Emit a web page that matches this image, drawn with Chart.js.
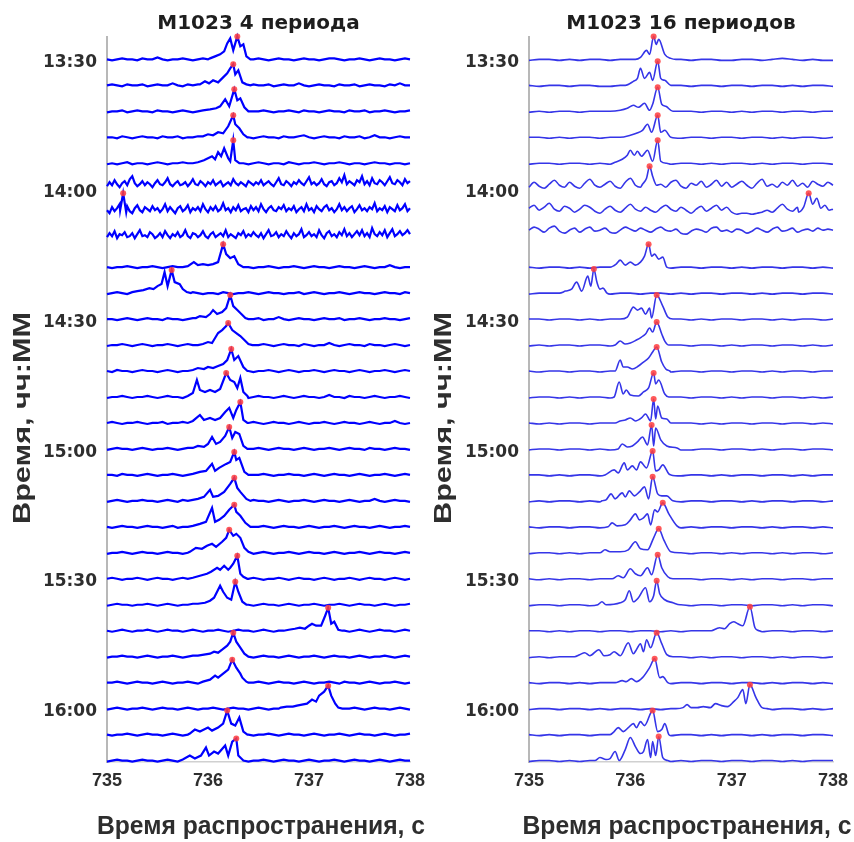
<!DOCTYPE html>
<html>
<head>
<meta charset="utf-8">
<script src="https://cdn.jsdelivr.net/npm/chart.js@4.4.1/dist/chart.umd.min.js"></script>
<style>
  html, body { margin: 0; padding: 0; background: #fff; }
  #wrap { display: flex; width: 854px; height: 842px; overflow: hidden; }
  .panel { width: 427px; height: 842px; }
</style>
</head>
<body>
<div id="wrap">
  <div class="panel"><canvas id="chart4" width="427" height="842"></canvas></div>
  <div class="panel"><canvas id="chart16" width="427" height="842"></canvas></div>
</div>
<script>
// propagation time window, s
const X_MIN = 735;
const X_MAX = 738;
const xTicks = [735, 736, 737, 738];
const yTickLabels = ['13:30', '14:00', '14:30', '15:00', '15:30', '16:00'];

// start time of every sounding session (one trace each)
const traceTimes = [
  '13:29:30', '13:35:30', '13:41:30', '13:47:30', '13:53:30', '13:59:30', '14:05:30',
  '14:11:30', '14:17:30', '14:23:30', '14:29:30', '14:35:30', '14:41:30', '14:47:30',
  '14:53:30', '14:59:30', '15:05:30', '15:11:30', '15:17:30', '15:23:30', '15:29:30',
  '15:35:30', '15:41:30', '15:47:30', '15:53:30', '15:59:30', '16:05:30', '16:11:30'
];

// amplitude unit expressed in minutes of the time axis
const AMP = 0.231;

// 4-period accumulation: background samples spread evenly over 735..738 s
const noise4 = [
  [1,0,1,2,1,1,0,2,1,1,3,1,0,1,1,2,1,0,1,2,1,1,0,1,2,1,1,0,1,1,2,1,0,1,2,1,1,0,1,2,1,1,0,1,2,2,1,0,1,1,2,1,0,1,2,1,1,0,1,2,1],
  [1,2,1,0,2,1,1,2,0,1,2,1,1,3,1,0,2,1,2,1,1,0,2,1,1,2,1,0,1,2,1,1,2,0,1,2,1,1,3,1,0,1,2,1,1,0,2,1,1,2,0,1,2,1,1,0,2,1,3,1,1],
  [0,1,1,2,0,1,2,1,1,0,2,1,1,0,1,2,1,0,1,1,2,1,0,1,2,1,1,2,0,1,1,2,1,0,1,1,2,1,0,2,1,1,0,1,2,1,1,0,2,1,1,2,0,1,1,2,1,0,1,1,2],
  [1,1,0,2,1,0,1,2,1,1,0,2,1,1,2,0,1,1,2,1,0,1,2,1,0,1,1,2,1,0,1,2,1,1,0,2,1,1,2,3,1,0,1,2,1,1,0,2,1,1,2,0,1,3,1,1,0,1,2,1,1],
  [0,1,0,1,2,0,1,1,0,1,2,1,0,1,1,2,1,1,2,1,1,2,1,0,1,2,1,1,0,1,2,1,0,1,1,0,2,1,0,1,1,2,1,0,1,1,2,1,0,1,1,0,1,2,1,1,0,1,1,0,1],
  [4,8,5,10,6,3,7,9,5,11,14,7,4,6,9,5,8,6,3,7,10,6,5,8,12,6,4,7,9,5,6,8,4,7,11,6,5,9,7,4,8,6,10,5,7,9,4,6,8,5,11,7,5,8,6,4,9,7,5,8,6,10,5,7,9,6,4,8,12,6,5,9,7,4,8,6,10,7,5,9,13,6,8,5,7,11,6,4,8,9,5,7,12,8,15,6,9,7,5,10,8,14,6,9,5,12,7,6,10,8,5,9,13,7,6,10,8,5,11,7,9],
  [6,3,9,5,8,12,4,7,10,5,3,8,11,6,4,9,7,5,10,6,8,4,7,12,5,9,6,3,8,10,5,7,11,4,8,6,9,5,12,7,4,9,6,10,5,7,13,6,8,4,9,6,11,5,7,8,4,10,6,9,5,12,7,4,8,10,6,5,9,7,11,5,8,6,10,4,7,9,5,12,6,8,4,10,7,5,9,11,6,8,4,7,12,6,9,5,8,10,4,7,11,6,8,5,9,7,13,5,8,6,10,4,9,7,5,11,6,8,12,5,8],
  [5,9,6,11,4,8,7,10,5,6,9,4,8,12,6,7,5,10,8,4,6,9,5,11,7,4,8,6,10,5,7,12,6,4,9,8,5,7,11,6,4,8,10,5,7,9,6,12,5,8,6,4,9,7,11,5,8,6,10,7,5,9,4,8,12,6,7,10,5,8,6,11,7,4,9,6,8,13,5,7,10,6,8,5,12,7,4,9,11,6,8,5,10,7,13,6,9,5,8,11,7,12,6,9,5,14,8,6,10,7,12,5,9,13,6,8,11,7,9,12,8],
  [1,0,1,1,2,1,0,1,1,2,1,0,1,2,1,1,0,1,2,1,1,0,2,1,1,0,1,2,1,0,1,1,2,1,0,1,1,2,1,0,1,2,1,1,0,1,2,1,1,0,1,2,1,0,1,1,3,1,0,1,1],
  [0,1,2,1,0,1,1,2,1,1,0,1,3,1,1,0,1,2,1,0,1,1,0,2,1,0,1,1,2,1,0,1,2,1,1,0,1,1,2,0,1,2,1,0,1,1,2,1,0,1,2,1,1,0,1,2,1,1,0,2,1],
  [1,1,0,1,2,1,0,1,2,1,1,0,2,1,1,0,1,2,1,1,0,1,1,2,1,0,1,2,1,1,2,0,1,1,3,1,0,1,2,1,1,0,1,2,1,1,2,0,1,1,2,1,0,1,1,2,1,1,0,1,2],
  [0,1,1,2,1,0,1,2,1,0,1,1,2,1,0,1,2,1,1,0,1,2,1,1,0,1,2,1,0,1,1,2,1,0,1,2,1,1,0,2,1,0,1,1,3,1,0,1,2,1,1,0,2,1,1,0,1,2,1,0,1],
  [1,0,2,1,1,0,1,2,1,1,0,1,2,1,0,1,1,2,1,0,1,2,1,1,0,1,2,1,1,0,1,1,2,1,0,1,2,1,0,1,1,2,1,0,1,2,1,1,0,1,2,1,0,1,1,2,1,0,1,2,1],
  [0,1,1,2,1,0,1,1,2,1,0,1,2,1,1,0,2,1,1,0,1,2,1,0,1,1,2,1,0,1,2,1,1,0,1,2,1,0,1,2,1,1,0,1,3,1,1,0,2,1,1,0,1,2,1,0,1,1,2,1,0],
  [1,2,1,0,1,1,2,1,0,1,1,2,0,1,1,2,1,0,1,2,1,1,0,1,2,1,0,1,1,2,1,0,1,2,1,1,0,1,2,1,0,1,1,2,1,0,1,2,1,1,0,1,2,1,0,1,1,3,1,0,1],
  [0,1,2,1,1,0,1,2,1,0,1,1,2,1,0,1,2,1,1,0,2,1,1,0,1,2,1,0,1,1,2,1,0,1,2,1,1,0,1,2,1,0,1,1,2,1,0,1,2,1,1,0,2,1,1,0,1,2,1,1,0],
  [1,1,0,2,1,1,0,1,2,1,0,1,1,2,1,0,1,2,1,1,0,2,1,1,0,1,2,1,0,1,1,2,1,0,1,1,2,1,1,0,1,2,1,0,1,2,1,1,0,1,2,1,0,1,1,2,1,0,1,2,1],
  [0,1,2,1,0,1,1,2,1,1,0,1,2,1,0,2,1,1,0,1,2,1,1,0,1,2,1,0,1,2,1,1,0,1,2,1,0,1,1,2,1,0,1,2,1,1,0,1,2,1,0,1,1,3,1,0,1,2,1,1,0],
  [1,0,1,2,1,1,0,1,2,1,1,0,1,2,0,1,1,2,1,0,1,2,1,1,0,1,2,1,0,1,1,2,1,0,1,2,1,1,0,1,2,1,0,1,1,2,1,0,1,2,1,1,0,1,2,1,0,1,1,2,1],
  [0,1,1,2,1,0,1,2,1,1,0,1,2,1,1,0,1,2,1,0,1,1,2,1,0,1,2,1,1,0,1,2,1,0,1,1,2,1,0,1,2,1,1,0,1,2,1,0,1,1,2,1,0,1,2,1,1,0,1,2,1],
  [1,2,1,0,1,1,2,1,0,1,2,1,1,0,1,2,1,0,1,1,2,1,0,1,2,1,1,0,1,2,1,0,1,1,2,1,0,1,2,1,1,0,1,2,1,0,1,1,2,1,0,1,2,1,1,0,1,2,1,0,1],
  [0,1,2,1,1,0,1,1,2,1,0,1,2,1,0,1,1,2,1,1,0,1,2,1,0,1,2,1,1,0,1,2,1,1,0,1,2,1,0,1,1,2,1,0,1,1,2,1,0,1,2,1,1,0,1,2,1,0,1,1,2],
  [1,0,1,2,1,0,1,1,2,1,0,1,2,1,1,0,1,2,1,0,1,1,2,1,0,1,2,1,1,0,1,2,1,0,1,1,2,1,0,1,2,1,0,1,1,2,1,1,0,1,2,1,0,1,2,1,1,0,1,2,1],
  [0,1,1,2,1,1,0,1,2,1,0,1,1,2,1,0,1,2,1,1,0,1,2,1,0,1,1,2,1,0,1,2,1,1,0,1,2,1,0,1,1,2,1,0,1,2,1,1,0,1,2,1,0,1,1,2,1,0,1,2,1],
  [1,1,2,1,0,1,2,1,1,0,1,2,1,0,1,1,2,1,0,1,2,1,1,0,1,2,1,0,1,1,2,1,0,1,2,1,1,0,1,2,1,0,1,1,2,1,0,2,1,1,0,1,2,1,0,1,1,2,1,0,1],
  [0,1,2,1,0,1,1,2,1,0,1,2,1,1,0,1,2,1,0,1,1,2,1,0,1,2,1,1,0,1,2,1,0,1,1,2,1,0,1,2,1,1,0,1,2,1,0,1,1,2,1,0,1,2,1,1,0,1,2,1,0],
  [1,0,1,1,2,1,0,1,2,1,1,0,1,2,1,0,1,1,2,1,0,1,2,1,1,0,1,2,1,0,1,1,2,1,0,1,2,1,1,0,1,2,1,0,1,1,2,1,0,1,2,1,1,0,1,2,1,0,1,1,2],
  [0,1,2,1,1,0,1,2,1,1,0,1,2,1,0,1,1,2,1,0,1,2,1,1,0,1,2,1,0,1,1,2,1,0,1,2,1,1,0,1,2,1,0,1,1,2,1,0,1,2,1,1,0,1,2,1,0,1,2,1,1]
];

// 4-period accumulation: signal around the arrival, [time s, amplitude]
const peaks4 = [
  [[736.02,2],[736.07,4],[736.12,6],[736.16,9],[736.19,17],[736.22,22],[736.25,10],[736.29,24],[736.32,14],[736.35,16],[736.38,4],[736.42,1]],
  [[735.92,2],[735.97,5],[736.01,3],[736.05,6],[736.1,4],[736.14,8],[736.19,13],[736.22,18],[736.25,22],[736.27,12],[736.3,16],[736.34,4],[736.38,2],[736.42,1]],
  [[735.95,2],[736.02,3],[736.08,4],[736.12,6],[736.17,13],[736.21,6],[736.26,23],[736.29,12],[736.32,14],[736.36,5],[736.4,1]],
  [[735.95,2],[736.0,4],[736.05,3],[736.1,6],[736.15,5],[736.2,12],[736.25,23],[736.27,14],[736.31,10],[736.35,4],[736.39,1]],
  [[735.9,2],[735.96,4],[736.0,6],[736.04,8],[736.07,5],[736.1,12],[736.13,8],[736.16,16],[736.2,6],[736.22,3],[736.25,24],[736.27,4],[736.31,1]],
  [],
  [[735.13,6],[735.16,23],[735.19,4]],
  [],
  [[735.8,2],[735.86,6],[735.9,3],[735.95,4],[736.0,3],[736.05,4],[736.1,6],[736.15,24],[736.18,14],[736.22,10],[736.26,12],[736.3,4],[736.35,1]],
  [[735.25,2],[735.3,3],[735.36,4],[735.42,6],[735.46,5],[735.5,8],[735.54,10],[735.57,22],[735.6,8],[735.64,24],[735.67,12],[735.72,10],[735.75,5],[735.79,2],[735.83,1]],
  [[735.88,2],[735.92,4],[735.98,3],[736.02,6],[736.05,10],[736.09,6],[736.14,8],[736.18,12],[736.22,25],[736.25,14],[736.29,10],[736.33,6],[736.37,2]],
  [[735.95,2],[736.0,4],[736.04,3],[736.07,8],[736.1,13],[736.14,16],[736.18,20],[736.2,23],[736.24,16],[736.28,13],[736.32,10],[736.36,6],[736.4,2],[736.44,1]],
  [[735.85,2],[735.9,4],[735.96,3],[736.0,5],[736.05,4],[736.1,6],[736.15,8],[736.19,12],[736.23,23],[736.26,12],[736.3,16],[736.35,5],[736.39,1]],
  [[735.8,2],[735.85,5],[735.89,18],[735.92,8],[735.97,6],[736.02,8],[736.07,6],[736.12,9],[736.18,25],[736.22,18],[736.26,16],[736.29,10],[736.32,20],[736.35,6],[736.39,2]],
  [[735.85,3],[735.92,9],[735.96,4],[736.02,6],[736.07,4],[736.12,6],[736.17,12],[736.21,16],[736.25,6],[736.28,14],[736.32,22],[736.35,4],[736.39,1]],
  [[735.85,2],[735.9,4],[735.96,3],[736.0,6],[736.04,13],[736.08,6],[736.12,8],[736.17,14],[736.21,23],[736.24,12],[736.27,18],[736.31,16],[736.35,4],[736.39,1]],
  [[735.85,2],[735.92,4],[735.98,5],[736.04,12],[736.07,5],[736.11,8],[736.18,12],[736.22,14],[736.26,24],[736.28,16],[736.31,18],[736.36,4],[736.4,1]],
  [[735.85,2],[735.9,3],[735.96,5],[736.02,12],[736.05,5],[736.1,6],[736.16,10],[736.22,18],[736.26,24],[736.29,14],[736.32,10],[736.38,3],[736.42,1]],
  [[735.85,2],[735.92,4],[735.98,6],[736.04,20],[736.07,6],[736.11,8],[736.16,12],[736.21,18],[736.26,23],[736.28,16],[736.32,12],[736.37,5],[736.42,1]],
  [[735.82,2],[735.88,6],[735.94,5],[735.99,8],[736.04,10],[736.08,7],[736.14,12],[736.18,16],[736.21,24],[736.25,18],[736.28,20],[736.32,16],[736.36,6],[736.4,2]],
  [[735.85,2],[735.92,4],[735.99,6],[736.03,8],[736.09,12],[736.12,10],[736.16,14],[736.2,10],[736.22,12],[736.25,16],[736.29,24],[736.32,6],[736.35,3],[736.39,1]],
  [[735.9,2],[735.97,3],[736.02,5],[736.06,8],[736.1,16],[736.12,20],[736.15,14],[736.19,8],[736.23,6],[736.27,24],[736.3,14],[736.34,4],[736.38,1]],
  [[736.8,2],[736.86,3],[736.91,4],[736.96,3],[737.0,6],[737.03,8],[737.07,6],[737.12,6],[737.16,16],[737.19,24],[737.22,8],[737.25,10],[737.29,2],[737.33,1]],
  [[735.9,2],[735.96,3],[736.02,4],[736.06,6],[736.1,5],[736.14,8],[736.19,12],[736.22,16],[736.25,25],[736.28,16],[736.32,10],[736.36,4],[736.4,1]],
  [[735.95,2],[736.02,4],[736.07,8],[736.1,6],[736.15,10],[736.2,14],[736.24,24],[736.28,16],[736.32,10],[736.34,6],[736.38,2]],
  [[736.72,2],[736.78,3],[736.84,3],[736.88,4],[736.93,5],[736.98,6],[737.03,10],[737.07,8],[737.1,14],[737.15,18],[737.19,24],[737.22,14],[737.26,6],[737.29,2],[737.33,1]],
  [[735.82,2],[735.87,6],[735.92,4],[736.0,8],[736.04,5],[736.1,8],[736.15,12],[736.19,25],[736.23,12],[736.27,10],[736.31,18],[736.35,4],[736.39,1]],
  [[735.75,2],[735.82,6],[735.87,3],[735.93,6],[735.98,14],[736.01,6],[736.06,10],[736.1,8],[736.17,16],[736.2,6],[736.24,20],[736.28,23],[736.3,6],[736.34,2]]
];

// 16-period accumulation: smoother background
const noise16 = [
  [0,1,1,0,1,0,1,1,0,1,1,0,1,0,1,1,0,1,1,0,0,1,1,0,1,2,1,0,1,0,0],
  [1,0,1,1,0,1,1,0,0,1,1,0,1,1,0,1,0,1,1,0,1,1,0,1,1,0,1,0,1,1,0],
  [0,1,0,1,1,0,1,1,1,0,1,0,1,1,0,1,1,0,1,1,0,1,0,1,1,0,1,1,0,1,1],
  [1,1,0,1,0,1,1,0,1,1,0,1,1,0,1,0,1,1,0,1,1,0,1,1,0,1,0,1,1,0,1],
  [0,1,1,0,1,1,0,1,0,1,1,0,1,1,0,1,1,0,1,0,1,1,0,1,0,1,1,0,1,1,0],
  [3,8,4,2,6,10,5,3,8,4,2,7,11,5,3,6,9,4,2,8,12,5,3,7,9,4,6,3,8,10,4,2,7,5,9,3,6,10,4,8,3,6,9,5,2,7,11,4,6,3,8,5,10,4,7,3,9,6,4,8,5],
  [8,11,6,9,13,7,5,10,8,4,7,11,9,5,3,7,10,6,4,8,12,7,5,9,6,4,8,11,7,5,9,6,3,7,10,5,8,11,6,9,4,2,3,3,2,3,4,6,4,8,12,7,5,9,6,4,8,10,6,9,7],
  [12,15,13,10,14,16,11,9,12,14,10,13,15,11,12,14,10,9,12,15,13,11,14,12,10,13,15,12,11,13,9,8,11,13,12,10,14,15,11,12,10,13,12,9,11,14,12,10,13,15,11,12,14,10,12,13,11,14,12,13,12],
  [1,0,1,1,0,1,0,1,1,0,1,1,0,1,0,1,1,0,1,1,0,1,0,1,1,0,1,1,0,1,0],
  [0,1,1,0,1,0,1,1,0,1,1,0,1,1,0,1,0,1,1,0,1,1,0,1,0,1,1,0,1,1,0],
  [1,1,0,1,1,0,1,0,1,1,0,1,1,0,1,1,0,1,0,1,1,0,1,1,0,1,0,1,1,0,1],
  [0,1,0,1,1,0,1,1,0,1,0,1,1,0,1,1,0,1,1,0,1,0,1,1,0,1,1,0,1,0,1],
  [1,0,1,1,0,1,1,0,1,0,1,1,0,1,0,1,1,0,1,1,0,1,1,0,1,0,1,1,0,1,1],
  [0,1,1,0,1,0,1,1,0,1,1,0,1,0,1,1,0,1,1,0,1,0,1,1,0,1,1,0,1,0,1],
  [1,0,1,0,1,1,0,1,1,0,1,0,1,1,0,1,1,0,1,0,1,1,0,1,1,0,1,1,0,1,0],
  [0,1,1,0,1,1,0,1,0,1,1,0,1,1,0,1,0,1,1,0,1,1,0,1,0,1,1,0,1,1,0],
  [1,1,0,1,0,1,1,0,1,1,0,1,0,1,1,0,1,1,0,1,0,1,1,0,1,1,0,1,0,1,1],
  [0,1,0,1,1,0,1,0,1,1,0,1,1,0,1,0,1,1,0,1,1,0,1,0,1,1,0,1,1,0,1],
  [1,0,1,1,0,1,1,0,1,0,1,1,0,1,1,0,1,0,1,1,0,1,1,0,1,0,1,1,0,1,0],
  [0,1,1,0,1,0,1,1,0,1,1,0,1,0,1,1,0,1,1,0,1,0,1,1,0,1,0,1,1,0,1],
  [1,0,1,0,1,1,0,1,1,0,1,0,1,1,0,1,1,0,1,1,0,1,0,1,1,0,1,1,0,1,1],
  [0,1,1,0,1,1,0,1,0,1,1,0,1,1,0,1,0,1,1,0,1,1,0,1,1,0,1,0,1,1,0],
  [1,1,0,1,0,1,1,0,1,1,0,1,1,0,1,0,1,1,0,1,1,0,1,0,1,1,0,1,1,0,1],
  [0,1,0,1,1,0,1,1,0,1,0,1,1,0,1,1,0,1,0,1,1,0,1,1,0,1,0,1,1,0,1],
  [1,0,1,1,0,1,0,1,1,0,1,1,0,1,0,1,1,0,1,1,0,1,1,0,1,0,1,1,0,1,0],
  [0,1,1,0,1,1,0,1,0,1,1,0,1,0,1,1,0,1,1,0,1,0,1,1,0,1,1,0,1,0,1],
  [1,0,1,0,1,1,0,1,1,0,1,0,1,1,0,1,1,0,1,0,1,1,0,1,0,1,1,0,1,1,0],
  [0,1,1,0,1,0,1,1,0,1,1,0,1,1,0,1,0,1,1,0,1,1,0,1,1,0,1,0,1,1,1]
];

const peaks16 = [
  [[736.05,1],[736.1,3],[736.16,10],[736.19,6],[736.23,24],[736.255,16],[736.28,21],[736.34,6],[736.4,2],[736.45,1]],
  [[735.95,1],[736.03,5],[736.07,8],[736.1,18],[736.14,8],[736.19,14],[736.22,6],[736.27,25],[736.3,8],[736.34,6],[736.4,1]],
  [[735.9,2],[735.97,4],[736.03,7],[736.08,5],[736.14,9],[736.19,2],[736.22,8],[736.27,25],[736.31,8],[736.35,6],[736.42,1]],
  [[735.9,1],[736.0,3],[736.06,5],[736.12,8],[736.17,14],[736.21,6],[736.27,23],[736.3,6],[736.34,8],[736.4,1]],
  [[735.85,2],[735.92,5],[735.97,9],[736.0,14],[736.04,9],[736.07,13],[736.11,8],[736.17,14],[736.22,3],[736.27,24],[736.3,3],[736.36,1]],
  [[736.12,6],[736.16,12],[736.19,24],[736.22,14],[736.26,5]],
  [[737.66,4],[737.71,9],[737.76,23],[737.8,12],[737.84,18],[737.88,8],[737.92,11],[737.96,6]],
  [],
  [[735.8,1],[735.86,4],[735.9,8],[735.95,3],[736.0,6],[736.05,3],[736.1,6],[736.14,12],[736.18,24],[736.21,12],[736.24,14],[736.28,9],[736.32,11],[736.36,1]],
  [[735.3,1],[735.36,3],[735.42,5],[735.47,12],[735.52,3],[735.58,18],[735.61,8],[735.64,25],[735.67,12],[735.7,5],[735.73,6],[735.77,1]],
  [[735.9,1],[735.97,3],[736.03,13],[736.07,10],[736.11,12],[736.15,6],[736.19,12],[736.21,2],[736.26,25],[736.32,14],[736.37,3],[736.42,1]],
  [[735.85,1],[735.9,5],[735.95,2],[736.0,3],[736.06,6],[736.11,9],[736.15,12],[736.19,18],[736.22,14],[736.26,24],[736.31,12],[736.34,5],[736.38,1]],
  [[735.85,1],[735.9,12],[735.93,5],[735.97,5],[736.02,3],[736.08,6],[736.13,10],[736.18,14],[736.22,20],[736.26,25],[736.31,10],[736.35,3],[736.39,1]],
  [[735.84,1],[735.89,16],[735.93,4],[735.96,8],[736.0,3],[736.08,2],[736.13,6],[736.18,10],[736.23,25],[736.25,14],[736.28,18],[736.34,4],[736.38,1]],
  [[735.85,1],[735.9,3],[735.95,4],[736.0,6],[736.05,3],[736.11,6],[736.15,10],[736.2,3],[736.23,25],[736.25,5],[736.27,18],[736.31,6],[736.36,5],[736.4,1]],
  [[735.88,1],[735.92,6],[735.97,3],[736.02,4],[736.07,8],[736.12,13],[736.17,5],[736.21,25],[736.23,4],[736.25,22],[736.3,10],[736.36,4],[736.46,2],[736.5,0]],
  [[735.75,1],[735.84,6],[735.88,3],[735.94,13],[735.97,6],[736.02,10],[736.06,6],[736.1,14],[736.16,8],[736.22,25],[736.25,5],[736.28,6],[736.32,11],[736.38,2]],
  [[735.72,1],[735.76,2],[735.81,8],[735.85,3],[735.92,9],[735.95,5],[735.99,11],[736.04,6],[736.09,10],[736.14,15],[736.18,3],[736.22,25],[736.27,8],[736.31,6],[736.36,6],[736.42,1]],
  [[735.78,1],[735.82,5],[735.87,2],[735.95,3],[736.0,8],[736.05,14],[736.09,8],[736.13,10],[736.17,14],[736.2,3],[736.24,18],[736.27,16],[736.32,25],[736.38,14],[736.46,2],[736.5,0]],
  [[735.7,1],[735.75,4],[735.8,2],[735.9,2],[735.98,4],[736.05,12],[736.1,5],[736.17,4],[736.23,16],[736.28,25],[736.33,14],[736.4,2]],
  [[735.82,1],[735.88,4],[735.93,2],[736.0,11],[736.05,6],[736.1,4],[736.17,12],[736.21,5],[736.27,25],[736.31,12],[736.37,3],[736.42,1]],
  [[735.68,1],[735.72,4],[735.76,1],[735.9,3],[735.95,6],[735.99,15],[736.03,4],[736.08,8],[736.15,18],[736.19,4],[736.23,10],[736.26,25],[736.29,12],[736.34,6],[736.42,3],[736.49,1]],
  [[736.8,1],[736.85,3],[736.88,4],[736.93,3],[736.98,8],[737.02,10],[737.06,8],[737.11,6],[737.18,25],[737.23,4],[737.27,1]],
  [[735.45,1],[735.5,3],[735.55,5],[735.6,2],[735.69,8],[735.74,2],[735.8,3],[735.84,6],[735.9,2],[735.98,15],[736.03,4],[736.06,8],[736.1,14],[736.13,6],[736.16,18],[736.2,10],[736.26,25],[736.31,14],[736.36,3],[736.42,1]],
  [[735.85,1],[735.92,3],[735.96,2],[736.01,5],[736.06,2],[736.12,6],[736.19,16],[736.24,25],[736.29,6],[736.32,7],[736.37,1]],
  [[736.45,1],[736.52,2],[736.56,5],[736.6,2],[736.66,2],[736.72,3],[736.79,2],[736.84,6],[736.9,4],[736.96,3],[737.02,8],[737.06,12],[737.11,20],[737.14,6],[737.18,25],[737.24,12],[737.3,2],[737.35,1]],
  [[735.8,1],[735.84,4],[735.88,8],[735.93,4],[735.98,8],[736.03,12],[736.06,8],[736.1,14],[736.14,10],[736.22,25],[736.27,4],[736.31,6],[736.34,12],[736.38,1]],
  [[735.65,1],[735.7,4],[735.76,2],[735.8,3],[735.85,10],[735.89,1],[735.95,12],[736.0,24],[736.05,15],[736.1,8],[736.13,10],[736.17,22],[736.2,4],[736.22,20],[736.25,6],[736.28,25],[736.32,4],[736.37,1]]
];

const TEXT = '#2e2e2e';
const Y_TOP = 24.1;     // minutes after 13:00
const Y_BOTTOM = 191.6;

function toMinutes(s) {
  const [h, m, sec = 0] = s.split(':').map(Number);
  return (h - 13) * 60 + m + sec / 60;
}

function fmtTime(v) {
  const h = 13 + Math.floor(v / 60);
  const m = Math.round(v - (h - 13) * 60);
  return h + ':' + String(m).padStart(2, '0');
}

// background samples + arrival samples -> one polyline, offset to the session time
function tracePoints(noise, peaks, base) {
  const step = (X_MAX - X_MIN) / (noise.length - 1);
  const from = peaks.length ? peaks[0][0] : Infinity;
  const to = peaks.length ? peaks[peaks.length - 1][0] : -Infinity;
  const pts = [];
  noise.forEach((a, i) => {
    const t = X_MIN + i * step;
    if (t < from || t > to) pts.push({ x: t, y: base - a * AMP });
  });
  peaks.forEach(([t, a]) => pts.push({ x: t, y: base - a * AMP }));
  return pts.sort((p, q) => p.x - q.x);
}

// axis captions drawn by hand so they can be squeezed / stretched to fit
const axisTitles = {
  id: 'axisTitles',
  afterDraw(chart, args, o) {
    const ctx = chart.ctx;
    ctx.save();
    ctx.fillStyle = TEXT;
    ctx.textAlign = 'center';
    ctx.textBaseline = 'middle';
    ctx.font = 'bold 24px "Liberation Sans", Arial, sans-serif';
    let w = ctx.measureText(o.yTitle).width;
    ctx.translate(o.yTitleX, o.yTitleY);
    ctx.rotate(-Math.PI / 2);
    ctx.scale(o.yTitleLen / w, 1);
    ctx.fillText(o.yTitle, 0, 0);
    ctx.restore();

    ctx.save();
    ctx.fillStyle = TEXT;
    ctx.textAlign = 'center';
    ctx.textBaseline = 'alphabetic';
    ctx.font = 'bold 25px "Liberation Sans", Arial, sans-serif';
    w = ctx.measureText(o.xTitle).width;
    ctx.translate(o.xTitleX, o.xTitleY);
    ctx.scale(o.xTitleLen / w, 1);
    ctx.fillText(o.xTitle, 0, 0);
    ctx.restore();
  }
};

function buildPanel(id, o) {
  const datasets = [];
  const marks = [];
  o.peaks.forEach((pk, k) => {
    if (!pk.length) return;
    const top = pk.reduce((a, b) => (b[1] > a[1] ? b : a));
    marks.push({ x: top[0], y: toMinutes(traceTimes[k]) - top[1] * AMP });
  });
  datasets.push({
    data: marks,
    showLine: false,
    pointRadius: 3,
    pointBorderWidth: 0,
    pointBackgroundColor: 'rgba(255, 60, 60, 0.85)',
    clip: false,
    order: 0
  });
  o.noise.forEach((noise, k) => {
    datasets.push({
      data: tracePoints(noise, o.peaks[k], toMinutes(traceTimes[k])),
      showLine: true,
      pointRadius: 0,
      borderColor: o.color,
      borderWidth: o.width,
      cubicInterpolationMode: o.smooth ? 'monotone' : 'default',
      tension: 0,
      clip: false,
      order: 1
    });
  });

  return new Chart(document.getElementById(id), {
    type: 'scatter',
    data: { datasets },
    options: {
      responsive: false,
      devicePixelRatio: 1,
      animation: false,
      events: [],
      layout: { padding: { left: 0, right: o.padRight, top: 0, bottom: 0 } },
      plugins: {
        legend: { display: false },
        tooltip: { enabled: false },
        title: {
          display: true,
          text: o.title,
          fullSize: false,
          color: '#1e1e1e',
          font: { family: '"DejaVu Sans", sans-serif', size: 20, weight: 'bold', lineHeight: 1.2 },
          padding: { top: 12, bottom: 1 }
        },
        axisTitles: {
          yTitle: 'Время, чч:MM', yTitleX: o.yTitleX, yTitleY: 418, yTitleLen: 212,
          xTitle: 'Время распространения, с', xTitleX: o.xTitleX, xTitleY: 834, xTitleLen: o.xTitleLen
        }
      },
      scales: {
        x: {
          type: 'linear',
          min: X_MIN,
          max: X_MAX,
          grid: { display: false },
          border: { display: true, color: '#d0d0d0', width: 1.5 },
          afterBuildTicks: (s) => { s.ticks = xTicks.map((v) => ({ value: v })); },
          afterFit: (s) => { s.height = 80; },
          ticks: {
            padding: 0,
            color: TEXT,
            font: { family: '"Liberation Sans", Arial, sans-serif', size: 18, weight: 'bold' },
            callback: (v) => String(v)
          }
        },
        y: {
          type: 'linear',
          reverse: true,
          min: Y_TOP,
          max: Y_BOTTOM,
          grid: { display: false },
          border: { display: true, color: '#b8b8b8', width: 2 },
          afterBuildTicks: (s) => { s.ticks = yTickLabels.map((l) => ({ value: toMinutes(l) })); },
          afterFit: (s) => { s.width = o.axisWidth; },
          ticks: {
            padding: 2,
            color: TEXT,
            font: { family: '"DejaVu Sans", sans-serif', size: 17, weight: 'bold' },
            callback: (v) => fmtTime(v)
          }
        }
      }
    },
    plugins: [axisTitles]
  });
}

buildPanel('chart4', {
  title: 'M1023 4 периода',
  noise: noise4,
  peaks: peaks4,
  color: '#0000ff',
  width: 2.2,
  smooth: false,
  axisWidth: 107,
  padRight: 17,
  yTitleX: 23,
  xTitleX: 261,
  xTitleLen: 328
});

buildPanel('chart16', {
  title: 'M1023 16 периодов',
  noise: noise16,
  peaks: peaks16,
  color: '#3535e8',
  width: 1.6,
  smooth: true,
  axisWidth: 102,
  padRight: 21,
  yTitleX: 17,
  xTitleX: 260,
  xTitleLen: 329
});
</script>
</body>
</html>
